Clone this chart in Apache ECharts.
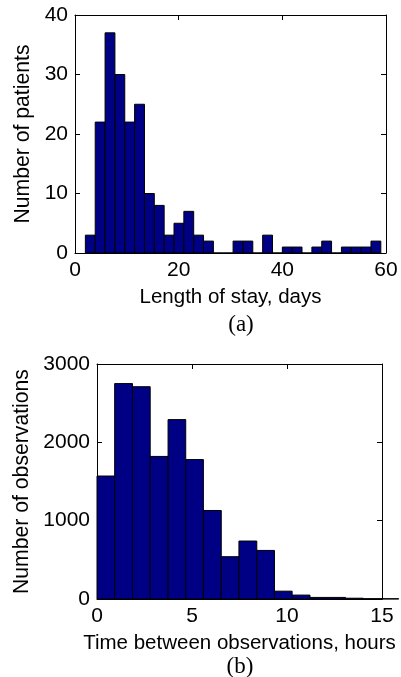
<!DOCTYPE html>
<html>
<head>
<meta charset="utf-8">
<script src="https://cdn.jsdelivr.net/npm/echarts@6/dist/echarts.min.js"></script>
<style>
  html, body { margin: 0; padding: 0; background: #fff; }
  #chart { width: 401px; height: 677px; }
</style>
</head>
<body>
<div id="chart"></div>
<script>
// (a) length of stay histogram: bin edges (days) and counts
const stayEdges = [2, 3.9, 5.8, 7.7, 9.6, 11.5, 13.4, 15.3, 17.2, 19.1, 21, 22.9, 24.8, 26.7, 28.6,
  30.5, 32.4, 34.3, 36.2, 38.1, 40, 41.9, 43.8, 45.7, 47.6, 49.5, 51.4, 53.3, 55.2, 57.1, 59];
const stayCounts = [3, 22, 37, 30, 22, 25, 10, 8, 3, 5, 7, 3, 2, 0, 0,
  2, 2, 0, 3, 0, 1, 1, 0, 1, 2, 0, 1, 1, 1, 2];

// (b) time between observations: bin edges (hours) and counts
const gapEdges = [0, 0.93, 1.87, 2.8, 3.74, 4.67, 5.6, 6.54, 7.47, 8.41, 9.34, 10.27,
  11.21, 12.14, 13.08, 14.01, 14.94, 15.88];
const gapCounts = [1570, 2750, 2710, 1820, 2290, 1780, 1130, 540, 740, 620, 100, 50,
  20, 20, 10, 4, 3];

const barColor = '#000085';
const tickFont = { fontFamily: 'Liberation Sans', fontSize: 21, color: '#000' };
const xNameFont = { fontFamily: 'Liberation Sans', fontSize: 20.5, color: '#000' };
const yNameFont = { fontFamily: 'Liberation Sans', fontSize: 21.2, color: '#000' };
const plain = v => String(v);

function histData(edges, counts) {
  return counts.map((c, i) => [edges[i], edges[i + 1], c]);
}

function renderBar(params, api) {
  const p0 = api.coord([api.value(0), api.value(2)]);
  const p1 = api.coord([api.value(1), 0]);
  return {
    type: 'rect',
    shape: { x: p0[0], y: p0[1], width: p1[0] - p0[0], height: p1[1] - p0[1] },
    style: { fill: barColor, stroke: '#000', lineWidth: 1 }
  };
}

// main axis with labels plus a mirror axis for the MATLAB-style box ticks
function xAxes(grid, min, max, interval, name, gap) {
  return [
    {
      gridIndex: grid, type: 'value', min: min, max: max, interval: interval,
      name: name, nameLocation: 'middle', nameGap: gap, nameTextStyle: xNameFont,
      axisLine: { show: true, onZero: false, lineStyle: { color: '#000', width: 1 } },
      axisTick: { inside: true, length: 5, lineStyle: { color: '#000' } },
      axisLabel: Object.assign({ margin: 7, formatter: plain }, tickFont),
      splitLine: { show: false }
    },
    {
      gridIndex: grid, type: 'value', position: 'top', min: min, max: max, interval: interval,
      axisLine: { show: true, onZero: false, lineStyle: { color: '#000', width: 1 } },
      axisTick: { inside: true, length: 5, lineStyle: { color: '#000' } },
      axisLabel: { show: false }, splitLine: { show: false }
    }
  ];
}

function yAxes(grid, max, interval, name, gap) {
  return [
    {
      gridIndex: grid, type: 'value', min: 0, max: max, interval: interval,
      name: name, nameLocation: 'middle', nameGap: gap, nameTextStyle: yNameFont,
      axisLine: { show: true, onZero: false, lineStyle: { color: '#000', width: 1 } },
      axisTick: { show: true, inside: true, length: 5, lineStyle: { color: '#000' } },
      axisLabel: Object.assign({ margin: 7, formatter: plain }, tickFont),
      splitLine: { show: false }
    },
    {
      gridIndex: grid, type: 'value', position: 'right', min: 0, max: max, interval: interval,
      axisLine: { show: true, onZero: false, lineStyle: { color: '#000', width: 1 } },
      axisTick: { show: true, inside: true, length: 5, lineStyle: { color: '#000' } },
      axisLabel: { show: false }, splitLine: { show: false }
    }
  ];
}

const chart = echarts.init(document.getElementById('chart'), null, { renderer: 'canvas' });

chart.setOption({
  animation: false,
  backgroundColor: '#fff',
  grid: [
    { left: 75, top: 15, width: 311, height: 238, outerBoundsMode: 'none', containLabel: false },
    { left: 97, top: 364, width: 285, height: 235, outerBoundsMode: 'none', containLabel: false }
  ],
  xAxis: [].concat(
    xAxes(0, 0, 60, 20, 'Length of stay, days', 34),
    xAxes(1, 0, 15, 5, 'Time between observations, hours', 34)
  ),
  yAxis: [].concat(
    yAxes(0, 40, 10, 'Number of patients', 34),
    yAxes(1, 3000, 1000, 'Number of observations', 55)
  ),
  series: [
    {
      type: 'custom', xAxisIndex: 0, yAxisIndex: 0,
      renderItem: renderBar, data: histData(stayEdges, stayCounts),
      encode: { x: [0, 1], y: 2 }
    },
    {
      type: 'custom', xAxisIndex: 2, yAxisIndex: 2, clip: false,
      renderItem: renderBar, data: histData(gapEdges, gapCounts),
      encode: { x: [0, 1], y: 2 }
    }
  ],
  graphic: [
    {
      type: 'text', x: 241, y: 325,
      style: { text: '(a)', fontFamily: 'Liberation Serif', fontSize: 23, fill: '#000', align: 'center', verticalAlign: 'middle' }
    },
    {
      type: 'text', x: 240, y: 667,
      style: { text: '(b)', fontFamily: 'Liberation Serif', fontSize: 23, fill: '#000', align: 'center', verticalAlign: 'middle' }
    }
  ]
});

window.addEventListener('resize', () => {
  chart.resize();
});
</script>
</body>
</html>
